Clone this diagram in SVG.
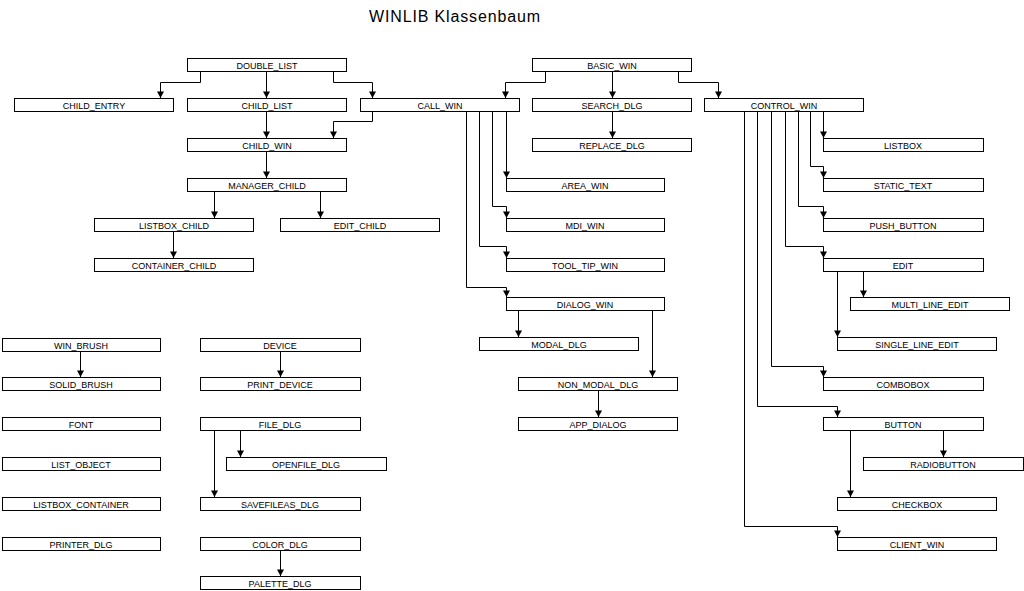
<svg xmlns="http://www.w3.org/2000/svg" width="1024" height="591" viewBox="0 0 1024 591">
<style>
.n rect{fill:#fff;stroke:#000;stroke-width:1}
.n text{font-family:"Liberation Sans",Arial,sans-serif;font-size:9px;fill:#000;text-anchor:middle}
.c path{fill:none;stroke:#000;stroke-width:1;marker-end:url(#ah)}
.t{font-family:"Liberation Sans",Arial,sans-serif;font-size:16px;fill:#000}
</style>
<defs>
<marker id="ah" markerUnits="userSpaceOnUse" markerWidth="8" markerHeight="8" viewBox="0 0 8 8" refX="7" refY="4" orient="auto">
<path d="M0.5,0.5 L7,4 L0.5,7.5 z" fill="#000"/>
</marker>
</defs>
<rect width="1024" height="591" fill="#fff"/>
<text class="t" x="369" y="21.5" textLength="171" lengthAdjust="spacing">WINLIB Klassenbaum</text>
<g id="connectors" class="c">
<path d="M200.5,71 V82.5 H160.5 V98"/>
<path d="M266.5,71 V98"/>
<path d="M333.5,71 V82.5 H372.5 V98"/>
<path d="M372.5,111 V121.5 H333.5 V138"/>
<path d="M266.5,111 V138"/>
<path d="M266.5,151 V178"/>
<path d="M214.5,191 V218"/>
<path d="M320.5,191 V218"/>
<path d="M173.5,231 V258"/>
<path d="M545.5,71 V82.5 H505.5 V98"/>
<path d="M612.5,71 V98"/>
<path d="M678.5,71 V82.5 H718.5 V98"/>
<path d="M612.5,111 V138"/>
<path d="M506.5,111 V178"/>
<path d="M492.5,111 V206.5 H506.5 V218"/>
<path d="M479.5,111 V246.5 H506.5 V258"/>
<path d="M466.5,111 V287.5 H506.5 V297"/>
<path d="M518.5,310 V337"/>
<path d="M652.5,310 V377"/>
<path d="M598.5,390 V417"/>
<path d="M823.5,111 V138"/>
<path d="M810.5,111 V166.5 H823.5 V178"/>
<path d="M798.5,111 V206.5 H823.5 V218"/>
<path d="M785.5,111 V246.5 H823.5 V258"/>
<path d="M863.5,271 V297"/>
<path d="M837.5,271 V337"/>
<path d="M771.5,111 V366.5 H823.5 V377"/>
<path d="M757.5,111 V406.5 H837.5 V417"/>
<path d="M943.5,430 V457"/>
<path d="M850.5,430 V497"/>
<path d="M744.5,111 V526.5 H837.5 V537"/>
<path d="M80.5,351 V377"/>
<path d="M280.5,351 V377"/>
<path d="M240.5,430 V457"/>
<path d="M214.5,430 V497"/>
<path d="M280.5,550 V576"/>
</g>
<g class="n">
<g id="DOUBLE_LIST"><rect x="187.5" y="58.5" width="159" height="13"/><text x="267" y="68.5">DOUBLE_LIST</text></g>
<g id="CHILD_ENTRY"><rect x="14.5" y="98.5" width="159" height="13"/><text x="94" y="108.5">CHILD_ENTRY</text></g>
<g id="CHILD_LIST"><rect x="187.5" y="98.5" width="159" height="13"/><text x="267" y="108.5">CHILD_LIST</text></g>
<g id="CALL_WIN"><rect x="360.5" y="98.5" width="159" height="13"/><text x="440" y="108.5">CALL_WIN</text></g>
<g id="CHILD_WIN"><rect x="187.5" y="138.5" width="159" height="13"/><text x="267" y="148.5">CHILD_WIN</text></g>
<g id="MANAGER_CHILD"><rect x="187.5" y="178.5" width="159" height="13"/><text x="267" y="188.5">MANAGER_CHILD</text></g>
<g id="LISTBOX_CHILD"><rect x="94.5" y="218.5" width="159" height="13"/><text x="174" y="228.5">LISTBOX_CHILD</text></g>
<g id="EDIT_CHILD"><rect x="280.5" y="218.5" width="159" height="13"/><text x="360" y="228.5">EDIT_CHILD</text></g>
<g id="CONTAINER_CHILD"><rect x="94.5" y="258.5" width="159" height="13"/><text x="174" y="268.5">CONTAINER_CHILD</text></g>
<g id="BASIC_WIN"><rect x="532.5" y="58.5" width="159" height="13"/><text x="612" y="68.5">BASIC_WIN</text></g>
<g id="SEARCH_DLG"><rect x="532.5" y="98.5" width="159" height="13"/><text x="612" y="108.5">SEARCH_DLG</text></g>
<g id="REPLACE_DLG"><rect x="532.5" y="138.5" width="159" height="13"/><text x="612" y="148.5">REPLACE_DLG</text></g>
<g id="CONTROL_WIN"><rect x="704.5" y="98.5" width="159" height="13"/><text x="784" y="108.5">CONTROL_WIN</text></g>
<g id="AREA_WIN"><rect x="506.5" y="178.5" width="158" height="13"/><text x="585" y="188.5">AREA_WIN</text></g>
<g id="MDI_WIN"><rect x="506.5" y="218.5" width="158" height="13"/><text x="585" y="228.5">MDI_WIN</text></g>
<g id="TOOL_TIP_WIN"><rect x="506.5" y="258.5" width="158" height="13"/><text x="585" y="268.5">TOOL_TIP_WIN</text></g>
<g id="DIALOG_WIN"><rect x="506.5" y="297.5" width="158" height="13"/><text x="585" y="307.5">DIALOG_WIN</text></g>
<g id="MODAL_DLG"><rect x="479.5" y="337.5" width="159" height="13"/><text x="559" y="347.5">MODAL_DLG</text></g>
<g id="NON_MODAL_DLG"><rect x="518.5" y="377.5" width="159" height="13"/><text x="598" y="387.5">NON_MODAL_DLG</text></g>
<g id="APP_DIALOG"><rect x="518.5" y="417.5" width="159" height="13"/><text x="598" y="427.5">APP_DIALOG</text></g>
<g id="LISTBOX"><rect x="823.5" y="138.5" width="160" height="13"/><text x="903" y="148.5">LISTBOX</text></g>
<g id="STATIC_TEXT"><rect x="823.5" y="178.5" width="160" height="13"/><text x="903" y="188.5">STATIC_TEXT</text></g>
<g id="PUSH_BUTTON"><rect x="823.5" y="218.5" width="160" height="13"/><text x="903" y="228.5">PUSH_BUTTON</text></g>
<g id="EDIT"><rect x="823.5" y="258.5" width="160" height="13"/><text x="903" y="268.5">EDIT</text></g>
<g id="MULTI_LINE_EDIT"><rect x="850.5" y="297.5" width="159" height="13"/><text x="930" y="307.5">MULTI_LINE_EDIT</text></g>
<g id="SINGLE_LINE_EDIT"><rect x="837.5" y="337.5" width="159" height="13"/><text x="917" y="347.5">SINGLE_LINE_EDIT</text></g>
<g id="COMBOBOX"><rect x="823.5" y="377.5" width="160" height="13"/><text x="903" y="387.5">COMBOBOX</text></g>
<g id="BUTTON"><rect x="823.5" y="417.5" width="160" height="13"/><text x="903" y="427.5">BUTTON</text></g>
<g id="RADIOBUTTON"><rect x="863.5" y="457.5" width="160" height="13"/><text x="943" y="467.5">RADIOBUTTON</text></g>
<g id="CHECKBOX"><rect x="837.5" y="497.5" width="159" height="13"/><text x="917" y="507.5">CHECKBOX</text></g>
<g id="CLIENT_WIN"><rect x="837.5" y="537.5" width="159" height="13"/><text x="917" y="547.5">CLIENT_WIN</text></g>
<g id="WIN_BRUSH"><rect x="2.5" y="338.5" width="158" height="13"/><text x="81" y="348.5">WIN_BRUSH</text></g>
<g id="SOLID_BRUSH"><rect x="2.5" y="377.5" width="158" height="13"/><text x="81" y="387.5">SOLID_BRUSH</text></g>
<g id="FONT"><rect x="2.5" y="417.5" width="158" height="13"/><text x="81" y="427.5">FONT</text></g>
<g id="LIST_OBJECT"><rect x="2.5" y="457.5" width="158" height="13"/><text x="81" y="467.5">LIST_OBJECT</text></g>
<g id="LISTBOX_CONTAINER"><rect x="2.5" y="497.5" width="158" height="13"/><text x="81" y="507.5">LISTBOX_CONTAINER</text></g>
<g id="PRINTER_DLG"><rect x="2.5" y="537.5" width="158" height="13"/><text x="81" y="547.5">PRINTER_DLG</text></g>
<g id="DEVICE"><rect x="200.5" y="338.5" width="160" height="13"/><text x="280" y="348.5">DEVICE</text></g>
<g id="PRINT_DEVICE"><rect x="200.5" y="377.5" width="160" height="13"/><text x="280" y="387.5">PRINT_DEVICE</text></g>
<g id="FILE_DLG"><rect x="200.5" y="417.5" width="160" height="13"/><text x="280" y="427.5">FILE_DLG</text></g>
<g id="OPENFILE_DLG"><rect x="226.5" y="457.5" width="160" height="13"/><text x="306" y="467.5">OPENFILE_DLG</text></g>
<g id="SAVEFILEAS_DLG"><rect x="200.5" y="497.5" width="160" height="13"/><text x="280" y="507.5">SAVEFILEAS_DLG</text></g>
<g id="COLOR_DLG"><rect x="200.5" y="537.5" width="160" height="13"/><text x="280" y="547.5">COLOR_DLG</text></g>
<g id="PALETTE_DLG"><rect x="200.5" y="576.5" width="160" height="13"/><text x="280" y="586.5">PALETTE_DLG</text></g>
</g>
</svg>
